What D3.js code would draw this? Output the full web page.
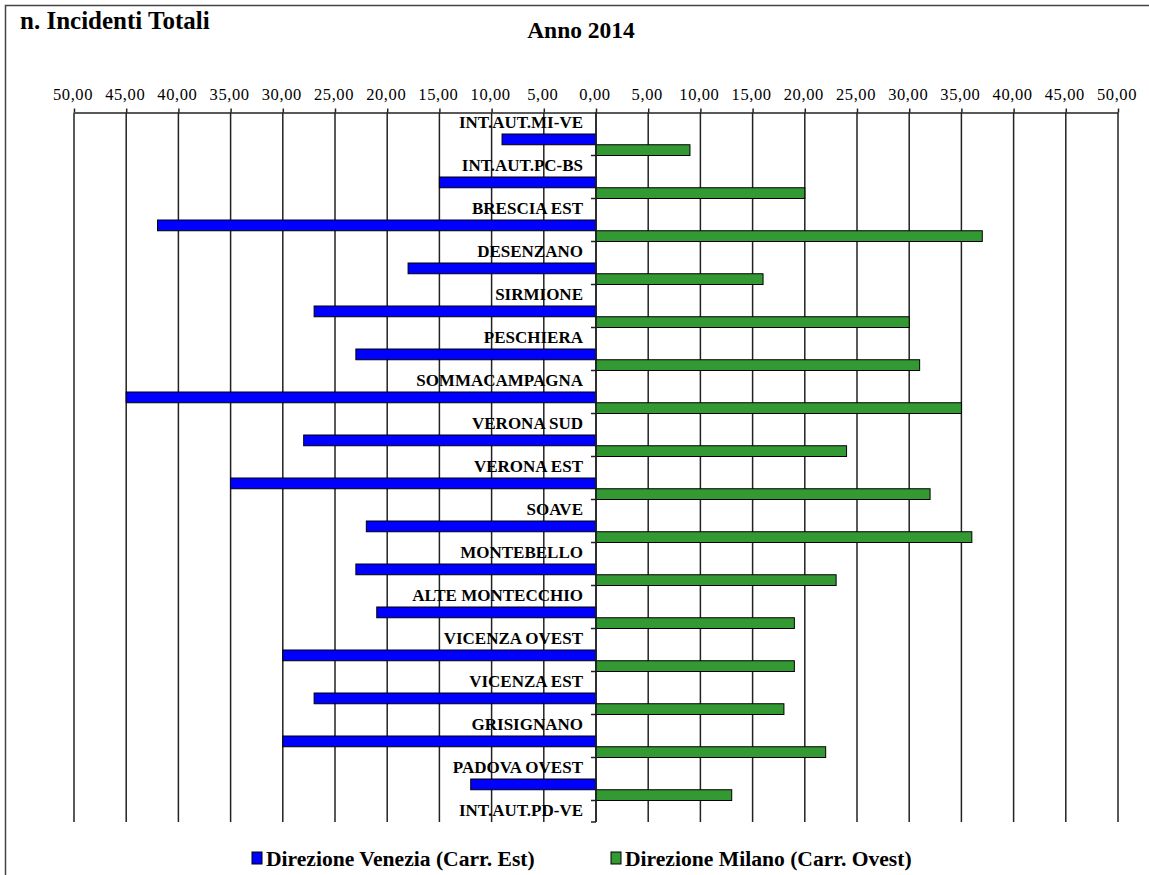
<!DOCTYPE html>
<html lang="it">
<head>
  <meta charset="UTF-8">
  <title>n. Incidenti Totali - Anno 2014</title>
  <style>
    body {
      margin: 0;
      padding: 0;
      background: #fff;
    }
    svg text {
      font-family: "Liberation Serif", "Times New Roman", "DejaVu Serif", serif;
      fill: #000;
    }
  </style>
</head>
<body>
  <svg id="chart" width="1149" height="875"></svg>
  <script src="https://d3js.org/d3.v7.min.js"></script>
  <script>
    // stazioni (confini dei tratti), dall'alto in basso
    const stations = [
      'INT.AUT.MI-VE', 'INT.AUT.PC-BS', 'BRESCIA EST', 'DESENZANO', 'SIRMIONE',
      'PESCHIERA', 'SOMMACAMPAGNA', 'VERONA SUD', 'VERONA EST', 'SOAVE',
      'MONTEBELLO', 'ALTE MONTECCHIO', 'VICENZA OVEST', 'VICENZA EST',
      'GRISIGNANO', 'PADOVA OVEST', 'INT.AUT.PD-VE'
    ];
    // incidenti per tratto (16 tratti)
    const venezia = [9, 15, 42, 18, 27, 23, 45, 28, 35, 22, 23, 21, 30, 27, 30, 12];
    const milano = [9, 20, 37, 16, 30, 31, 35, 24, 32, 36, 23, 19, 19, 18, 22, 13];
    const tickValues = [-50, -45, -40, -35, -30, -25, -20, -15, -10, -5, 0, 5, 10, 15, 20, 25, 30, 35, 40, 45, 50];
    const seriesNames = ['Direzione Venezia (Carr. Est)', 'Direzione Milano (Carr. Ovest)'];
    const colors = ['#0000ff', '#339933'];

    const plotTop = 112.5;
    const step = 43;
    const plotBottom = 822;
    const serif = '"Liberation Serif", "Times New Roman", serif';

    const svg = d3.select('#chart');

    // cornice
    svg.append('path')
      .attr('d', 'M5.5,875 L5.5,5.5 L1149,5.5')
      .attr('fill', 'none')
      .attr('stroke', '#444')
      .attr('stroke-width', 1.5);

    const x = d3.scaleLinear().domain([-50, 50]).range([74, 1118]);
    const y = d3.scaleBand()
      .domain(d3.range(venezia.length))
      .range([plotTop, plotTop + step * venezia.length])
      .paddingInner(0).paddingOuter(0);

    const it = d3.formatLocale({ decimal: ',', thousands: '.', grouping: [3], currency: ['€', ''] });
    const fmt = it.format('.2f');

    // griglia verticale
    svg.append('g')
      .selectAll('line')
      .data(tickValues)
      .enter()
      .append('line')
      .attr('x1', d => x(d))
      .attr('x2', d => x(d))
      .attr('y1', plotTop)
      .attr('y2', plotBottom)
      .attr('stroke', '#222')
      .attr('stroke-width', 1.5);

    // asse x in alto
    const xAxis = d3.axisTop(x)
      .tickValues(tickValues)
      .tickSize(4)
      .tickSizeOuter(0)
      .tickFormat(d => fmt(Math.abs(d)));

    const gx = svg.append('g')
      .attr('transform', `translate(0, ${plotTop})`)
      .call(xAxis)
      .attr('font-family', serif);
    gx.select('.domain').attr('stroke', '#222').attr('stroke-width', 1.5);
    gx.selectAll('.tick line').attr('stroke', '#222').attr('stroke-width', 1.5);
    gx.selectAll('.tick text')
      .attr('x', -1.5)
      .attr('y', -13)
      .style('font-size', '16.5px')
      .style('letter-spacing', '0.6px')
      .style('font-family', serif);

    // barre
    const bh = step / 4;
    svg.append('g')
      .selectAll('rect')
      .data(venezia)
      .enter()
      .append('rect')
      .attr('x', d => x(-d))
      .attr('y', (d, i) => y(i) + step / 2)
      .attr('width', d => x(0) - x(-d))
      .attr('height', bh)
      .attr('fill', colors[0])
      .attr('stroke', '#000')
      .attr('stroke-width', 1);

    svg.append('g')
      .selectAll('rect')
      .data(milano)
      .enter()
      .append('rect')
      .attr('x', x(0))
      .attr('y', (d, i) => y(i) + step * 3 / 4)
      .attr('width', d => x(d) - x(0))
      .attr('height', bh)
      .attr('fill', colors[1])
      .attr('stroke', '#000')
      .attr('stroke-width', 1);

    // asse delle categorie
    const tickYs = y.domain().map(i => y(i) + step).concat([plotBottom]);
    svg.append('line')
      .attr('x1', x(0)).attr('x2', x(0))
      .attr('y1', plotTop).attr('y2', plotBottom)
      .attr('stroke', '#222')
      .attr('stroke-width', 1.5);
    svg.append('g')
      .selectAll('line')
      .data(tickYs)
      .enter()
      .append('line')
      .attr('x1', x(0) - 5).attr('x2', x(0))
      .attr('y1', d => d).attr('y2', d => d)
      .attr('stroke', '#222')
      .attr('stroke-width', 1.5);

    // etichette stazioni
    svg.append('g')
      .selectAll('text')
      .data(stations)
      .enter()
      .append('text')
      .attr('x', x(0) - 13)
      .attr('y', (d, i) => plotTop + i * step + 15.5)
      .attr('text-anchor', 'end')
      .style('font-family', serif)
      .style('font-size', '17px')
      .style('font-weight', 'bold')
      .text(d => d);

    // titoli
    svg.append('text')
      .attr('x', 20)
      .attr('y', 29)
      .style('font-family', serif)
      .style('font-size', '25px')
      .style('font-weight', 'bold')
      .text('n. Incidenti Totali');

    svg.append('text')
      .attr('x', 581)
      .attr('y', 38)
      .attr('text-anchor', 'middle')
      .style('font-family', serif)
      .style('font-size', '23.5px')
      .style('font-weight', 'bold')
      .text('Anno 2014');

    // legenda
    const legendX = [252, 611];
    const legend = svg.append('g')
      .selectAll('g')
      .data(seriesNames)
      .enter()
      .append('g')
      .attr('transform', (d, i) => `translate(${legendX[i]}, 852)`);
    legend.append('rect')
      .attr('width', 10)
      .attr('height', 12)
      .attr('fill', (d, i) => colors[i])
      .attr('stroke', '#000')
      .attr('stroke-width', 1);
    legend.append('text')
      .attr('x', 14)
      .attr('y', 13.5)
      .style('font-family', serif)
      .style('font-size', '21.6px')
      .style('font-weight', 'bold')
      .text(d => d);
  </script>
</body>
</html>
